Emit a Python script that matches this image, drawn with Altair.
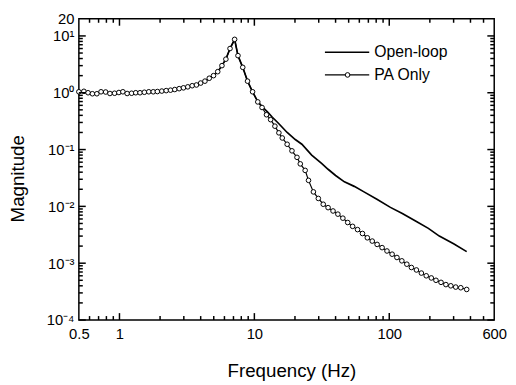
import altair as alt
import pandas as pd

# ---- data ----
pa_freq = [0.5, 0.545, 0.585, 0.63, 0.68, 0.73, 0.79, 0.85, 0.92, 0.99,
           1.06, 1.14, 1.23, 1.32, 1.42, 1.53, 1.65, 1.78, 1.91, 2.06,
           2.22, 2.39, 2.57, 2.77, 2.98, 3.21, 3.46, 3.72, 4.0, 4.3,
           4.63, 4.98, 5.35, 5.75, 6.15, 6.6, 7.14,
           7.56, 8.2, 8.9, 9.7, 10.6, 11.4, 12.3, 13.2, 14.2, 15.2,
           16.1, 17.5, 19.0, 20.7, 21.9, 23.8, 25.2, 27.4, 29.8, 32.4,
           35.2, 38.3, 41.6, 45.3, 49.2, 53.5, 58.2, 63.3, 68.8, 74.8,
           81.3, 88.5, 96.2, 105, 114, 124, 135, 146, 159, 173,
           188, 205, 222, 242, 263, 286, 311, 339, 375]
pa_mag = [1.04, 1.06, 1.0, 0.96, 0.96, 1.04, 1.03, 0.97, 0.98, 1.01,
          1.04, 0.97, 0.98, 1.0, 1.0, 1.02, 1.04, 1.04, 1.05, 1.07,
          1.09, 1.11, 1.14, 1.18, 1.22, 1.27, 1.33, 1.37, 1.48, 1.6,
          1.8, 2.0, 2.35, 3.0, 3.9, 6.0, 8.7,
          4.5, 2.8, 1.6, 1.04, 0.69, 0.55, 0.41, 0.336, 0.258, 0.197,
          0.16, 0.124, 0.095, 0.073, 0.056, 0.043, 0.0287, 0.018, 0.0138, 0.0109,
          0.0095, 0.0083, 0.0073, 0.0062, 0.0052, 0.00445, 0.0039, 0.00333, 0.0028, 0.00245,
          0.00214, 0.00188, 0.00164, 0.00144, 0.00126, 0.0011, 0.00096, 0.00084, 0.00076, 0.00067,
          0.0006, 0.00055, 0.0005, 0.00046, 0.00042, 0.0004, 0.00038, 0.00037, 0.000345]

ol_freq = [0.5, 0.545, 0.585, 0.63, 0.68, 0.73, 0.79, 0.85, 0.92, 0.99,
           1.06, 1.14, 1.23, 1.32, 1.42, 1.53, 1.65, 1.78, 1.91, 2.06,
           2.22, 2.39, 2.57, 2.77, 2.98, 3.21, 3.46, 3.72, 4.0, 4.3,
           4.63, 4.98, 5.35, 5.75, 6.15, 6.6, 7.14,
           7.56, 8.2, 8.9, 9.7,
           10.6, 11.5, 12.5, 13.6, 15.2, 17.5, 20.1, 22.5, 26.6, 31.5,
           35.2, 40, 46.5, 55, 65, 81, 102, 125, 159, 195,
           235, 300, 375]
ol_mag = [1.04, 1.06, 1.0, 0.96, 0.96, 1.04, 1.03, 0.97, 0.98, 1.01,
          1.04, 0.97, 0.98, 1.0, 1.0, 1.02, 1.04, 1.04, 1.05, 1.07,
          1.09, 1.11, 1.14, 1.18, 1.22, 1.27, 1.33, 1.37, 1.48, 1.6,
          1.8, 2.0, 2.35, 3.0, 3.9, 6.0, 8.7,
          4.5, 2.8, 1.6, 1.04,
          0.70, 0.56, 0.46, 0.37, 0.285, 0.2, 0.15, 0.124, 0.08, 0.057,
          0.045, 0.035, 0.027, 0.0225, 0.018, 0.0133, 0.0096, 0.0075, 0.0054, 0.0041,
          0.003, 0.0022, 0.0016]

series_names = ["Open-loop", "PA Only"]

x_label_values = [0.5, 1, 10, 100, 600]
y_label_values = [1e-4, 1e-3, 1e-2, 1e-1, 1, 10, 20]

x_major = [1, 10, 100]
x_minor = [0.6, 0.7, 0.8, 0.9, 2, 3, 4, 5, 6, 7, 8, 9,
           20, 30, 40, 50, 60, 70, 80, 90, 200, 300, 400, 500]
y_major = [1e-4, 1e-3, 1e-2, 1e-1, 1, 10]
y_minor = [k * 10.0 ** e for e in range(-4, 1) for k in range(2, 10)]

W, H = 422, 306
FONT = "Liberation Sans"

ol_df = pd.DataFrame({"f": ol_freq, "m": ol_mag})
pa_df = pd.DataFrame({"f": pa_freq, "m": pa_mag})

xs = alt.Scale(type="log", domain=[0.5, 600], nice=False)
ys = alt.Scale(type="log", domain=[1e-4, 20], nice=False)

ylabel_expr = (
    "datum.value > 15 ? '20' : datum.value > 5 ? '10\u00b9' : datum.value > 0.5 ? '10\u2070' : "
    "datum.value > 0.05 ? '10\u207b\u00b9' : datum.value > 0.005 ? '10\u207b\u00b2' : "
    "datum.value > 0.0005 ? '10\u207b\u00b3' : '10\u207b\u2074'"
)

xaxis = alt.Axis(values=x_label_values, format="~g", ticks=False, domain=False, grid=False,
                 labelFlush=False, labelOverlap=False, labelFontSize=15, labelPadding=7,
                 labelColor="black", labelFont=FONT,
                 title="Frequency (Hz)", titleFontSize=19, titleFontWeight="normal",
                 titleFont=FONT, titleColor="black",
                 titleX=216, titleY=57, titleBaseline="alphabetic")
yaxis = alt.Axis(values=y_label_values, labelExpr=ylabel_expr, ticks=False, domain=False, grid=False,
                 labelFlush=False, labelOverlap=False, labelFontSize=15, labelPadding=5,
                 labelColor="black", labelFont=FONT,
                 title="Magnitude", titleFontSize=19, titleFontWeight="normal",
                 titleFont=FONT, titleColor="black",
                 titleX=-56, titleY=162, titleAngle=270, titleBaseline="alphabetic")

X = alt.X("f:Q", scale=xs, axis=xaxis)
Y = alt.Y("m:Q", scale=ys, axis=yaxis)

ol_line = alt.Chart(ol_df).mark_line(color="black", strokeWidth=1.7).encode(x=X, y=Y)
pa_line = alt.Chart(pa_df).mark_line(color="black", strokeWidth=1.2).encode(x=X, y=Y)
pa_pts = alt.Chart(pa_df).mark_point(shape="circle", filled=True, fill="white", stroke="black",
                                     strokeWidth=1, size=22, opacity=1).encode(x=X, y=Y)


def xticks(vals, length):
    d = pd.DataFrame({"v": vals})
    b = alt.Chart(d).mark_rule(color="black", strokeWidth=1.5).encode(
        x=alt.X("v:Q", scale=xs, axis=xaxis), y=alt.value(H), y2=alt.value(H - length))
    t = alt.Chart(d).mark_rule(color="black", strokeWidth=1.5).encode(
        x=alt.X("v:Q", scale=xs, axis=xaxis), y=alt.value(0), y2=alt.value(length))
    return [b, t]


def yticks(vals, length):
    d = pd.DataFrame({"v": vals})
    l = alt.Chart(d).mark_rule(color="black", strokeWidth=1.5).encode(
        y=alt.Y("v:Q", scale=ys, axis=yaxis), x=alt.value(0), x2=alt.value(length))
    r = alt.Chart(d).mark_rule(color="black", strokeWidth=1.5).encode(
        y=alt.Y("v:Q", scale=ys, axis=yaxis), x=alt.value(W), x2=alt.value(W - length))
    return [l, r]


tick_layers = xticks(x_major, 7) + xticks(x_minor, 4) + yticks(y_major, 7) + yticks(y_minor, 4)

# legend (inside plot, top right)
leg1 = pd.DataFrame({"name": [series_names[0]]})
leg2 = pd.DataFrame({"name": [series_names[1]]})
leg_rule1 = alt.Chart(leg1).mark_rule(color="black", strokeWidth=1.5).encode(
    x=alt.value(250), x2=alt.value(295), y=alt.value(34))
leg_text1 = alt.Chart(leg1).mark_text(align="left", baseline="middle", fontSize=16, font=FONT,
                                      color="black").encode(
    x=alt.value(300), y=alt.value(34), text="name:N")
leg_rule2 = alt.Chart(leg2).mark_rule(color="black", strokeWidth=1.2).encode(
    x=alt.value(250), x2=alt.value(295), y=alt.value(57))
leg_pt2 = alt.Chart(leg2).mark_point(shape="circle", filled=True, fill="white", stroke="black",
                                     strokeWidth=1, size=22, opacity=1).encode(
    x=alt.value(273), y=alt.value(57))
leg_text2 = alt.Chart(leg2).mark_text(align="left", baseline="middle", fontSize=16, font=FONT,
                                      color="black").encode(
    x=alt.value(300), y=alt.value(57), text="name:N")

chart = alt.layer(ol_line, pa_line, pa_pts, *tick_layers,
                  leg_rule1, leg_text1, leg_rule2, leg_pt2, leg_text2).properties(
    width=W, height=H,
    autosize=alt.AutoSizeParams(type="none"),
    padding={"left": 72, "top": 8, "right": 14, "bottom": 61},
).configure(font=FONT, background="white").configure_view(stroke="black", strokeWidth=1.5)

chart.save("out.html", embed_options={"renderer": "svg", "actions": False})
